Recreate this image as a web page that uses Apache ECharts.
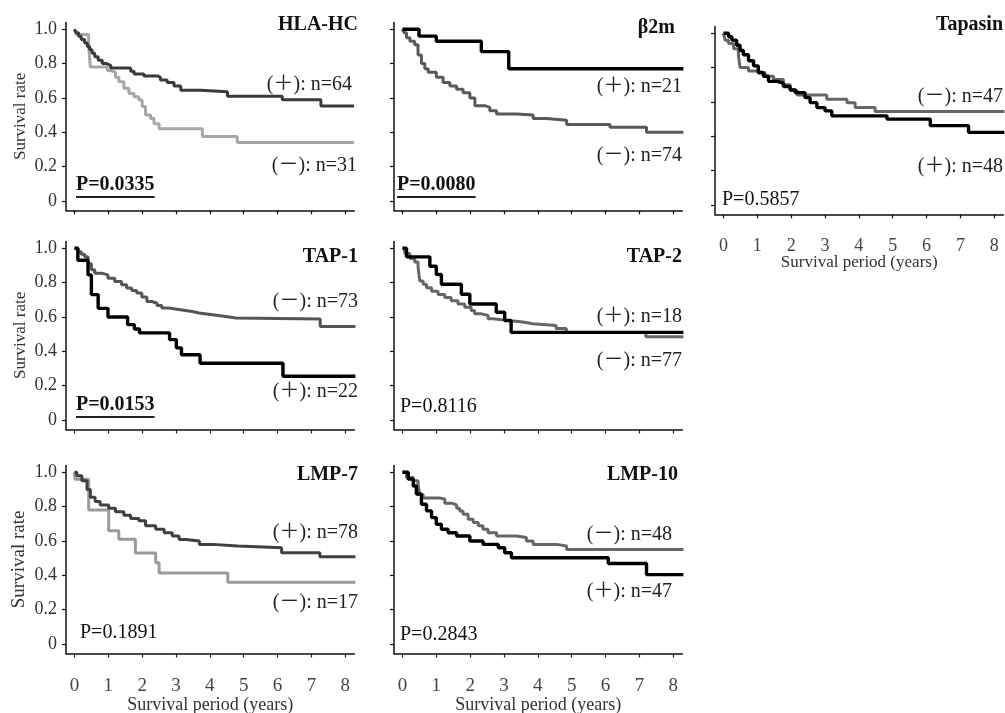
<!DOCTYPE html>
<html><head><meta charset="utf-8">
<script src="https://cdn.jsdelivr.net/npm/echarts@6/dist/echarts.min.js"></script>
<style>html,body{margin:0;padding:0;background:#fff}#c{width:1005px;height:713px}</style>
</head><body><div id="c"></div>
<script>
// ---------- data ----------
const yearTicks = [0,1,2,3,4,5,6,7,8];
const rateTicks = [0,0.2,0.4,0.6,0.8,1.0];
const panelNames = ['HLA-HC','β2m','Tapasin','TAP-1','TAP-2','LMP-7','LMP-10'];
const pValues = ['P=0.0335','P=0.0080','P=0.5857','P=0.0153','P=0.8116','P=0.1891','P=0.2843'];
const upperLabels = ['(＋): n=64','(＋): n=21','(－): n=47','(－): n=73','(＋): n=18','(＋): n=78','(－): n=48'];
const lowerLabels = ['(－): n=31','(－): n=74','(＋): n=48','(＋): n=22','(－): n=77','(－): n=17','(＋): n=47'];
const significant = [true,true,false,true,false,false,false];

const hlaPos = [[0,1],[0.05,0.98],[0.12,0.96],[0.2,0.94],[0.3,0.92],[0.38,0.9],[0.45,0.88],[0.52,0.86],[0.6,0.84],[0.7,0.82],[0.82,0.8],[0.95,0.79],[1.07,0.775],[1.66,0.755],[1.76,0.74],[2.05,0.728],[2.45,0.72],[2.54,0.705],[2.74,0.69],[2.94,0.67],[3.14,0.645],[3.73,0.636],[4.52,0.61],[6.14,0.59],[7.28,0.553],[8.26,0.553]];
const hlaNeg = [[0,1],[0.05,0.97],[0.42,0.9],[0.47,0.78],[0.97,0.76],[1.07,0.75],[1.21,0.72],[1.31,0.695],[1.46,0.656],[1.61,0.626],[1.76,0.607],[1.9,0.588],[2.0,0.55],[2.1,0.5],[2.25,0.48],[2.35,0.45],[2.5,0.42],[3.78,0.375],[4.81,0.34],[8.26,0.34]];
const b2mPos = [[0,1],[0.49,0.96],[1.0,0.93],[2.33,0.87],[3.14,0.77],[8.3,0.77]];
const b2mNeg = [[0,1],[0.05,0.98],[0.12,0.95],[0.22,0.93],[0.36,0.91],[0.46,0.85],[0.56,0.8],[0.66,0.77],[0.76,0.75],[1.0,0.72],[1.2,0.69],[1.4,0.67],[1.6,0.65],[1.79,0.63],[1.99,0.6],[2.14,0.555],[2.43,0.545],[2.58,0.526],[2.78,0.507],[3.37,0.5],[3.86,0.48],[4.26,0.47],[4.85,0.445],[6.13,0.43],[7.21,0.4],[8.3,0.4]];
const tapPos = [[0,1],[0.15,0.98],[0.25,0.96],[0.39,0.93],[0.49,0.9],[0.59,0.875],[0.74,0.84],[0.89,0.81],[1.03,0.77],[1.18,0.75],[1.33,0.72],[1.58,0.71],[1.77,0.69],[1.97,0.67],[2.12,0.654],[2.41,0.625],[2.56,0.596],[2.76,0.567],[3.0,0.548],[3.2,0.519],[4.83,0.5],[6.11,0.462],[7.24,0.423],[8.3,0.423]];
const tapNeg = [[0,1],[0.05,0.96],[0.15,0.94],[0.3,0.91],[0.44,0.875],[0.49,0.8],[0.74,0.78],[0.99,0.77],[1.23,0.75],[1.48,0.73],[1.77,0.7],[1.97,0.67],[2.17,0.64],[3.05,0.615],[3.65,0.596],[3.89,0.567],[4.48,0.544],[8.3,0.544]];
const tap1Neg = [[0,1],[0.1,0.98],[0.2,0.965],[0.3,0.95],[0.4,0.91],[0.5,0.875],[0.6,0.855],[0.8,0.845],[0.99,0.826],[1.19,0.807],[1.39,0.787],[1.54,0.768],[1.69,0.754],[1.84,0.739],[1.99,0.716],[2.14,0.69],[2.29,0.68],[2.44,0.667],[2.58,0.652],[2.78,0.642],[3.13,0.632],[3.48,0.623],[3.68,0.613],[4.08,0.603],[4.47,0.594],[4.77,0.588],[7.26,0.545],[8.3,0.545]];
const tap1Pos = [[0,1],[0.1,0.93],[0.4,0.845],[0.5,0.73],[0.7,0.65],[0.99,0.6],[1.57,0.555],[1.77,0.53],[1.92,0.507],[2.81,0.468],[3.01,0.42],[3.16,0.38],[3.71,0.33],[6.16,0.255],[8.3,0.255]];
const tap2Pos = [[0,1],[0.12,0.95],[0.81,0.895],[1.0,0.847],[1.15,0.79],[1.74,0.732],[1.99,0.675],[2.77,0.627],[3.02,0.579],[3.21,0.51],[8.3,0.51]];
const tap2Neg = [[0,1],[0.07,0.97],[0.22,0.94],[0.36,0.92],[0.46,0.895],[0.51,0.81],[0.61,0.79],[0.71,0.77],[0.86,0.75],[1.05,0.73],[1.25,0.713],[1.44,0.694],[1.64,0.675],[1.84,0.656],[2.03,0.637],[2.13,0.618],[2.33,0.608],[2.53,0.589],[2.67,0.579],[3.12,0.57],[3.56,0.56],[3.85,0.55],[4.54,0.532],[4.84,0.51],[7.19,0.484],[8.3,0.484]];
const lmp7Pos = [[0,1],[0.07,0.98],[0.22,0.95],[0.37,0.9],[0.47,0.854],[0.61,0.83],[0.76,0.81],[1.01,0.79],[1.21,0.77],[1.46,0.75],[1.66,0.73],[1.9,0.717],[2.1,0.688],[2.4,0.668],[2.65,0.648],[2.89,0.629],[3.09,0.609],[3.29,0.6],[3.69,0.58],[4.08,0.57],[4.83,0.56],[6.12,0.531],[7.25,0.508],[8.3,0.508]];
const lmp7Neg = [[0,1],[0.02,0.96],[0.42,0.78],[1.01,0.66],[1.31,0.61],[1.8,0.53],[2.4,0.473],[2.5,0.414],[4.53,0.36],[8.3,0.36]];
const lmp10Neg = [[0,1],[0.12,0.97],[0.32,0.95],[0.46,0.93],[0.51,0.87],[0.61,0.85],[1.1,0.844],[1.25,0.82],[1.45,0.81],[1.6,0.79],[1.69,0.775],[1.79,0.756],[1.94,0.727],[2.09,0.707],[2.24,0.688],[2.38,0.668],[2.53,0.648],[2.78,0.629],[3.37,0.62],[3.66,0.6],[3.86,0.58],[4.55,0.57],[4.85,0.55],[8.3,0.55]];
const lmp10Pos = [[0,1],[0.17,0.96],[0.32,0.92],[0.41,0.873],[0.56,0.814],[0.71,0.775],[0.86,0.736],[1.0,0.697],[1.15,0.668],[1.35,0.648],[1.6,0.629],[1.99,0.6],[2.38,0.58],[2.83,0.56],[3.02,0.531],[3.22,0.502],[6.08,0.469],[7.21,0.404],[8.3,0.404]];

// ---------- layout / style ----------
const curves = [
  [[hlaNeg,'#a6a6a6'],[hlaPos,'#3a3a3a']],
  [[b2mNeg,'#595959'],[b2mPos,'#000000']],
  [[tapNeg,'#666666'],[tapPos,'#000000']],
  [[tap1Neg,'#555555'],[tap1Pos,'#000000']],
  [[tap2Neg,'#666666'],[tap2Pos,'#000000']],
  [[lmp7Neg,'#9a9a9a'],[lmp7Pos,'#404040']],
  [[lmp10Neg,'#666666'],[lmp10Pos,'#000000']]
];
const grids = [
  {left:66, top:22.4}, {left:394, top:22.4}, {left:715, top:26.4},
  {left:66, top:241.4}, {left:394, top:241.4},
  {left:66, top:465.4}, {left:394, top:465.4}
];
const GW = 288.4, GH = 188;
const showYLabels = [true,false,false,true,false,true,false];
const showXLabels = [false,false,true,false,false,true,true];
const annot = [
  {title:[358,25], up:[352,85], low:[357,166], p:[76,185]},
  {title:[675,28], up:[682,87], low:[682,156], p:[397,185]},
  {title:[1003,25], up:[1003,97], low:[1003,167], p:[722,200]},
  {title:[358,257], up:[358,302], low:[358,392], p:[76,405]},
  {title:[682,257], up:[682,317], low:[682,361], p:[400,407]},
  {title:[358,475], up:[358,533], low:[358,603], p:[80,633]},
  {title:[678,475], up:[672,535], low:[672,592], p:[400,635]}
];
const SERIF = "'Liberation Serif','Times New Roman','Noto Sans CJK JP',serif";

const measure = (() => { const c = document.createElement('canvas').getContext('2d');
  return (t, f) => { c.font = f; return c.measureText(t).width; }; })();

const option = {
  animation:false,
  backgroundColor:'#ffffff',
  grid:[], xAxis:[], yAxis:[], series:[], graphic:[]
};
grids.forEach((g,i)=>{
  option.grid.push({left:g.left, top:g.top, width:GW, height:GH,
    containLabel:false, outerBoundsMode:'none'});
  const bottomRow = i >= 5;
  option.xAxis.push({
    type:'value', gridIndex:i, min:-0.25, max:8.27,
    axisLine:{show:true, onZero:false, lineStyle:{color:'#111', width:1.5}},
    axisTick:{show:true, customValues:yearTicks, length:4, lineStyle:{color:'#111', width:1.2}},
    axisLabel:{show:showXLabels[i], customValues:yearTicks, margin: bottomRow?23:23,
      fontFamily:SERIF, fontSize: bottomRow?19:18, color:'#444'},
    splitLine:{show:false},
    name: showXLabels[i] ? 'Survival period (years)' : '',
    nameLocation:'middle', nameGap: bottomRow?43:40, nameMoveOverlap:false,
    nameTextStyle:{fontFamily:SERIF, fontSize: bottomRow?18:17, color:'#333'}
  });
  option.yAxis.push({
    type:'value', gridIndex:i, min:-0.055, max:1.04,
    axisLine:{show:true, onZero:false, lineStyle:{color:'#111', width:1.5}},
    axisTick:{show:true, customValues:rateTicks, length:4, lineStyle:{color:'#111', width:1.2}},
    axisLabel:{show:showYLabels[i], customValues:rateTicks, margin:9,
      fontFamily:SERIF, fontSize:18, color:'#333',
      formatter:v => v===0 ? '0' : v.toFixed(1)},
    splitLine:{show:false},
    name: showYLabels[i] ? 'Survival rate' : '',
    nameLocation:'middle', nameGap: 37, nameRotate:90, nameMoveOverlap:false,
    nameTextStyle:{fontFamily:SERIF, fontSize: i===5?19:17, color:'#333'}
  });
  curves[i].forEach(([data,color])=>{
    option.series.push({
      type:'line', xAxisIndex:i, yAxisIndex:i, data:data, step:'end',
      showSymbol:false, symbol:'none', silent:true,
      lineStyle:{color:color, width: color==='#000000'?3.4:3},
      z: color==='#000000'?3:2
    });
  });
  const a = annot[i];
  const mk = (text, pos, align, font, fill) => ({
    type:'text', x:pos[0], y:pos[1], silent:true,
    style:{text:text, font:font, fill:fill, align:align, verticalAlign:'middle',
           textAlign:align, textVerticalAlign:'middle'}
  });
  option.graphic.push(mk(panelNames[i], a.title, 'right', "bold 20px "+SERIF, '#111'));
  option.graphic.push(mk(upperLabels[i], a.up, 'right', "20px "+SERIF, '#222'));
  option.graphic.push(mk(lowerLabels[i], a.low, 'right', "20px "+SERIF, '#222'));
  const pf = (significant[i]?"bold ":"") + "20px " + SERIF;
  option.graphic.push(mk(pValues[i], a.p, 'left', pf, '#111'));
  if (significant[i]) {
    const w = measure(pValues[i], pf);
    option.graphic.push({type:'line', silent:true,
      shape:{x1:a.p[0], y1:a.p[1]+12, x2:a.p[0]+w, y2:a.p[1]+12},
      style:{stroke:'#222', lineWidth:2.2}});
  }
});
const chart = echarts.init(document.getElementById('c'), null, {renderer:'canvas'});
chart.setOption(option);
</script>
</body></html>
